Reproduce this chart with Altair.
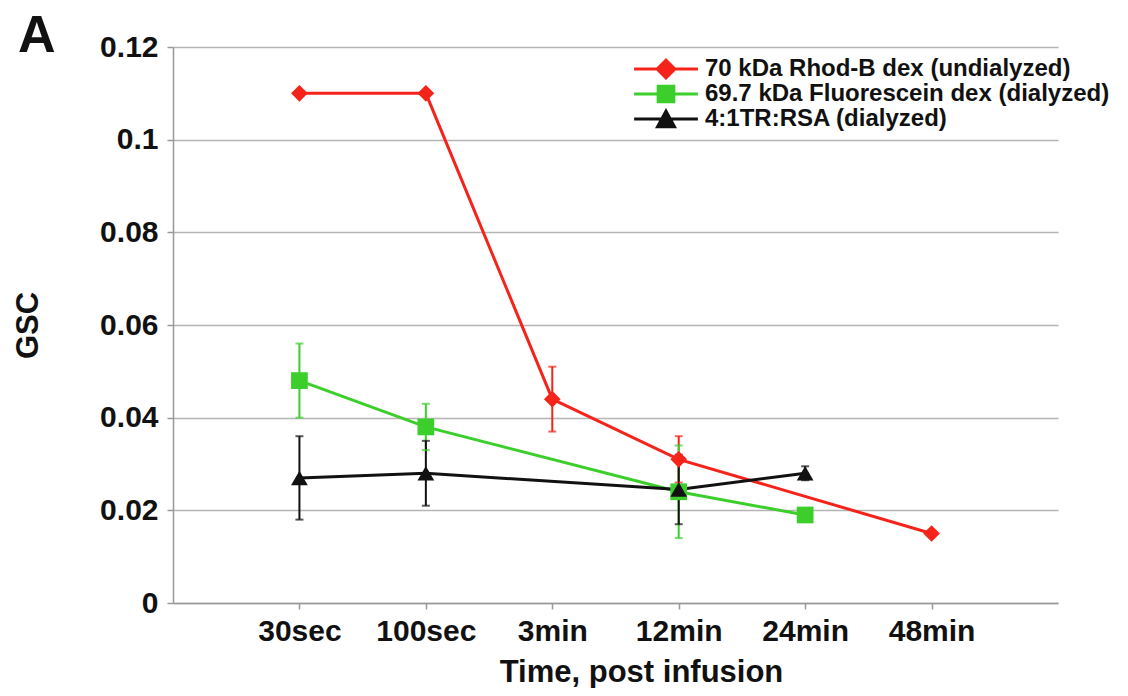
import altair as alt
import pandas as pd

# ---- data ----
times = ["30sec", "100sec", "3min", "12min", "24min", "48min"]
series_names = [
    "70 kDa Rhod-B dex (undialyzed)",
    "69.7 kDa Fluorescein dex (dialyzed)",
    "4:1TR:RSA (dialyzed)",
]
rhod_values = [0.110, 0.110, 0.044, 0.031, None, 0.015]
rhod_errors = [0.0, 0.0, 0.007, 0.005, None, 0.0]
fluor_values = [0.048, 0.038, None, 0.024, 0.019, None]
fluor_errors = [0.008, 0.005, None, 0.010, 0.0, None]
rsa_values = [0.027, 0.028, None, 0.0245, 0.028, None]
rsa_errors = [0.009, 0.007, None, 0.0075, 0.0015, None]
y_ticks = [0, 0.02, 0.04, 0.06, 0.08, 0.1, 0.12]

line_colors = ["#f5241a", "#3ccf2c", "#111111"]
point_shapes = ["diamond", "square", "triangle-up"]
legend_shapes = [
    "M-2.9,-0.14L2.9,-0.14L2.9,0.14L-2.9,0.14Z M0,-1L1,0L0,1L-1,0Z",
    "M-2.9,-0.14L2.9,-0.14L2.9,0.14L-2.9,0.14Z M-0.85,-0.85L0.85,-0.85L0.85,0.85L-0.85,0.85Z",
    "M-2.9,-0.14L2.9,-0.14L2.9,0.14L-2.9,0.14Z M0,-1L1,0.85L-1,0.85Z",
]

rows = []
for name, vals, errs in zip(series_names,
                            [rhod_values, fluor_values, rsa_values],
                            [rhod_errors, fluor_errors, rsa_errors]):
    for t, v, e in zip(times, vals, errs):
        if v is None:
            continue
        rows.append({"series": name, "time": t, "value": v, "err": e,
                     "lo": v - e, "hi": v + e})
df = pd.DataFrame(rows)

FONT = "Liberation Sans"

x_enc = alt.X(
    "time:O",
    sort=times,
    scale=alt.Scale(type="point", domain=times, padding=1),
    axis=alt.Axis(
        title="Time, post infusion",
        labelAngle=0,
        labelFont=FONT, labelFontSize=30, labelFontWeight="bold", labelColor="#111",
        labelBaseline="alphabetic", labelPadding=31,
        tickSize=6, tickColor="#999", tickWidth=1.5,
        domainColor="#999", domainWidth=1.5,
        titleFont=FONT, titleFontSize=31, titleFontWeight="bold", titleColor="#111",
        titleBaseline="alphabetic", titleX=468, titleY=78,
        grid=False,
    ),
)
y_axis = alt.Axis(
    title="GSC",
    values=y_ticks, format="~g",
    labelFont=FONT, labelFontSize=30, labelFontWeight="bold", labelColor="#111",
    labelPadding=9,
    tickSize=6, tickColor="#999", tickWidth=1.5,
    domainColor="#999", domainWidth=1.5,
    grid=True, gridColor="#b4b4b4", gridWidth=1.5,
    titleFont=FONT, titleFontSize=31, titleFontWeight="bold", titleColor="#111",
    titleAngle=-90, titleBaseline="alphabetic", titleX=-136,
)
y_enc = alt.Y("value:Q", scale=alt.Scale(domain=[0, 0.12]), axis=y_axis)

cscale = alt.Scale(domain=series_names, range=line_colors)
color_enc = alt.Color("series:N", scale=cscale, legend=None)

base = alt.Chart(df)

lines = base.mark_line(strokeWidth=3).encode(x=x_enc, y=y_enc, color=color_enc)

err_df = base.transform_filter("datum.err > 0")
err_rules = err_df.mark_rule(strokeWidth=2).encode(
    x=alt.X("time:O", sort=times), y="lo:Q", y2="hi:Q", color=color_enc)
cap_lo = err_df.mark_tick(thickness=2, size=8).encode(
    x=alt.X("time:O", sort=times), y="lo:Q", color=color_enc)
cap_hi = err_df.mark_tick(thickness=2, size=8).encode(
    x=alt.X("time:O", sort=times), y="hi:Q", color=color_enc)

points = base.mark_point(filled=True, size=280, opacity=1).encode(
    x=alt.X("time:O", sort=times),
    y="value:Q",
    color=color_enc,
    shape=alt.Shape("series:N", scale=alt.Scale(domain=series_names, range=point_shapes), legend=None),
)

legend_layer = base.transform_filter("false").mark_point(filled=True, size=484).encode(
    x=alt.X("time:O", sort=times),
    y="value:Q",
    color=alt.Color("series:N", scale=alt.Scale(domain=series_names, range=line_colors),
                    legend=alt.Legend(title=None)),
    shape=alt.Shape("series:N", scale=alt.Scale(domain=series_names, range=legend_shapes),
                    legend=alt.Legend(title=None)),
)

chart = (
    alt.layer(lines, err_rules, cap_lo, cap_hi, points, legend_layer)
    .resolve_scale(shape="independent", color="independent")
    .properties(
        width=885, height=556,
        autosize=alt.AutoSizeParams(type="none"),
        padding={"left": 165, "top": 39, "right": 62, "bottom": 85},
        title=alt.TitleParams("A", anchor="start", frame="group", dx=-155, dy=72,
                              offset=0, baseline="alphabetic",
                              font=FONT, fontSize=52, fontWeight="bold", color="#111"),
    )
    .configure_view(stroke=None)
    .configure_legend(
        orient="none", legendX=481, legendY=10,
        labelFont=FONT, labelFontSize=24, labelFontWeight="bold", labelColor="#111",
        labelLimit=0, labelOffset=27, rowPadding=1,
        symbolSize=484, symbolStrokeWidth=0, symbolOpacity=1,
    )
)

chart.save("out.html", embed_options={"renderer": "svg", "actions": False})
